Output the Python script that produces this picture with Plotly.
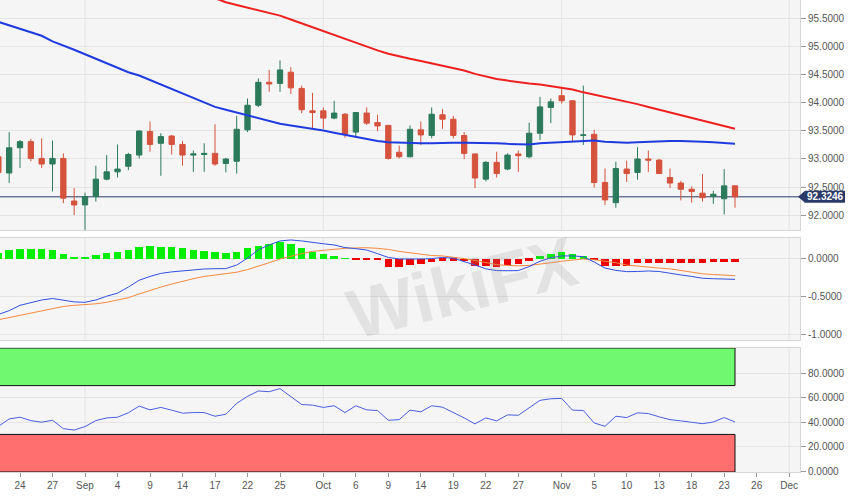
import pandas as pd
import plotly.graph_objects as go
from plotly.subplots import make_subplots

# ---------------- data ----------------
dates = pd.bdate_range("2020-08-20", "2020-11-24")

open_ = [93.04, 92.75, 93.20, 93.31, 93.01, 92.91, 93.01, 92.25, 92.18, 92.33,
         92.64, 92.77, 92.87, 93.07, 93.49, 93.28, 93.41, 93.26, 93.07, 93.08,
         93.10, 92.92, 92.96, 93.52, 93.96, 94.37, 94.35, 94.55, 94.26, 93.86,
         93.86, 93.73, 93.80, 93.48, 93.82, 93.65, 93.60, 93.12, 93.04, 93.52,
         93.42, 93.79, 93.71, 93.42, 93.09, 92.64, 92.94, 92.82, 93.09, 93.04,
         93.46, 93.92, 94.13, 94.04, 93.42, 93.44, 92.58, 92.22, 92.82, 92.76,
         93.00, 92.98, 92.67, 92.57, 92.46, 92.39, 92.33, 92.29, 92.52]
high = [93.10, 93.48, 93.34, 93.36, 93.37, 93.33, 93.10, 92.48, 92.40, 92.88,
        93.07, 93.26, 93.11, 93.51, 93.67, 93.46, 93.43, 93.32, 93.15, 93.28,
        93.62, 93.02, 93.77, 94.08, 94.44, 94.59, 94.76, 94.64, 94.31, 94.18,
        93.92, 94.04, 93.82, 93.84, 93.92, 93.79, 93.61, 93.24, 93.60, 93.67,
        93.92, 93.89, 93.77, 93.48, 93.10, 92.96, 93.13, 93.10, 93.15, 93.65,
        94.11, 94.08, 94.28, 94.05, 94.31, 93.52, 92.83, 92.95, 92.97, 93.21,
        93.15, 93.00, 92.83, 92.61, 92.51, 92.73, 92.43, 92.82, 92.53]
low = [92.70, 92.57, 92.84, 92.96, 92.84, 92.42, 92.21, 92.00, 91.73, 92.24,
       92.62, 92.67, 92.80, 93.01, 93.13, 92.70, 93.08, 92.88, 92.77, 92.77,
       92.88, 92.76, 92.74, 93.48, 93.93, 94.20, 94.20, 94.16, 93.82, 93.54,
       93.54, 93.71, 93.38, 93.38, 93.61, 93.50, 92.99, 93.01, 93.03, 93.25,
       93.37, 93.54, 93.37, 93.00, 92.48, 92.60, 92.67, 92.80, 92.77, 93.01,
       93.34, 93.64, 93.99, 93.30, 93.25, 92.49, 92.18, 92.13, 92.59, 92.63,
       92.77, 92.73, 92.48, 92.26, 92.22, 92.24, 92.20, 92.01, 92.13]
close = [92.76, 93.20, 93.31, 93.01, 92.91, 93.01, 92.30, 92.18, 92.33, 92.64,
         92.77, 92.82, 93.08, 93.50, 93.26, 93.40, 93.26, 93.07, 93.09, 93.10,
         92.91, 93.00, 93.53, 93.96, 94.37, 94.34, 94.59, 94.27, 93.88, 93.83,
         93.73, 93.82, 93.44, 93.83, 93.64, 93.59, 93.01, 93.04, 93.53, 93.43,
         93.80, 93.71, 93.42, 93.10, 92.66, 92.94, 92.74, 93.07, 93.06, 93.46,
         93.93, 94.02, 94.04, 93.43, 93.43, 92.58, 92.27, 92.83, 92.74, 93.00,
         92.98, 92.74, 92.57, 92.46, 92.42, 92.31, 92.37, 92.52, 92.3246]

ma_blue = [95.45, 95.39, 95.33, 95.27, 95.20, 95.10, 95.03, 94.95, 94.87, 94.79,
           94.71, 94.62, 94.55, 94.49, 94.41, 94.33, 94.25, 94.16, 94.08, 94.01,
           93.93, 93.88, 93.83, 93.77, 93.72, 93.67, 93.63, 93.60, 93.57, 93.55,
           93.51, 93.47, 93.43, 93.39, 93.35, 93.32, 93.30, 93.29, 93.28, 93.28,
           93.28, 93.29, 93.29, 93.29, 93.29, 93.29, 93.28, 93.27, 93.26, 93.26,
           93.28, 93.29, 93.30, 93.31, 93.32, 93.33, 93.31, 93.30, 93.29, 93.30,
           93.31, 93.32, 93.32, 93.32, 93.32, 93.31, 93.30, 93.29, 93.27]
ma_red = [None] * 20 + [
           95.87, 95.80, 95.75, 95.70, 95.65, 95.61, 95.56, 95.49, 95.42, 95.35,
           95.28, 95.21, 95.14, 95.08, 95.01, 94.94, 94.88, 94.83, 94.79, 94.75,
           94.71, 94.67, 94.63, 94.58, 94.52, 94.47, 94.43, 94.40, 94.37, 94.35,
           94.33, 94.30, 94.28, 94.24, 94.19, 94.15, 94.11, 94.07, 94.02, 93.98,
           93.93, 93.88, 93.83, 93.78, 93.74, 93.69, 93.64, 93.59, 93.54]

macd = [-0.73, -0.68, -0.61, -0.57, -0.54, -0.52, -0.54, -0.565, -0.57, -0.54,
        -0.49, -0.45, -0.37, -0.28, -0.23, -0.19, -0.17, -0.158, -0.14, -0.132,
        -0.128, -0.127, -0.08, 0.01, 0.12, 0.185, 0.237, 0.25, 0.237, 0.215,
        0.20, 0.184, 0.15, 0.135, 0.118, 0.07, 0.02, 0.0, -0.004, 0.0,
        0.005, 0.02, 0.01, -0.03, -0.08, -0.13, -0.153, -0.155, -0.153, -0.10,
        -0.03, 0.015, 0.04, 0.04, 0.03, -0.04, -0.12, -0.15, -0.167, -0.165,
        -0.158, -0.165, -0.19, -0.21, -0.23, -0.254, -0.26, -0.262, -0.268]
signal = [-0.80, -0.77, -0.74, -0.71, -0.68, -0.65, -0.625, -0.61, -0.60, -0.59,
          -0.57, -0.545, -0.51, -0.46, -0.41, -0.37, -0.33, -0.29, -0.26, -0.23,
          -0.21, -0.19, -0.175, -0.14, -0.10, -0.05, 0.0, 0.04, 0.07, 0.10,
          0.115, 0.13, 0.14, 0.145, 0.148, 0.14, 0.125, 0.10, 0.08, 0.06,
          0.045, 0.04, 0.025, 0.005, -0.02, -0.05, -0.075, -0.085, -0.09, -0.085,
          -0.07, -0.05, -0.03, -0.015, 0.0, -0.01, -0.03, -0.05, -0.08, -0.095,
          -0.105, -0.12, -0.13, -0.15, -0.175, -0.195, -0.205, -0.215, -0.22]
hist = [0.075, 0.118, 0.13, 0.13, 0.13, 0.118, 0.066, 0.03, 0.03, 0.053,
        0.075, 0.096, 0.118, 0.162, 0.171, 0.162, 0.162, 0.14, 0.118, 0.105,
        0.088, 0.075, 0.096, 0.14, 0.175, 0.193, 0.219, 0.193, 0.149, 0.096,
        0.061, 0.04, 0.005, -0.005, -0.012, -0.015, -0.10, -0.11, -0.077, -0.066,
        -0.035, -0.02, -0.02, -0.03, -0.09, -0.09, -0.10, -0.08, -0.065, -0.02,
        0.04, 0.06, 0.096, 0.06, 0.04, -0.01, -0.09, -0.09, -0.09, -0.05,
        -0.05, -0.05, -0.05, -0.05, -0.05, -0.05, -0.045, -0.045, -0.04]

rsi = [36.5, 42.7, 44.1, 41.3, 40.0, 41.6, 34.7, 33.6, 36.4, 41.3,
       43.5, 44.1, 47.7, 53.2, 50.1, 52.1, 49.9, 47.4, 47.9, 47.9,
       44.9, 46.5, 55.4, 61.2, 65.6, 65.0, 67.5, 61.2, 54.5, 54.0,
       52.1, 53.5, 47.9, 53.5, 50.1, 49.6, 41.6, 42.1, 49.9, 48.5,
       53.5, 52.3, 48.2, 43.5, 38.6, 43.5, 41.1, 46.0, 45.7, 51.8,
       57.9, 59.2, 59.5, 49.9, 49.6, 39.4, 36.6, 44.9, 43.8, 47.7,
       47.1, 44.4, 42.1, 41.1, 40.2, 38.8, 40.2, 43.8, 40.2]
rsi_upper = 70
rsi_lower = 30
rsi_ticks = [0, 20, 40, 60, 80]

tick_dates = ["2020-08-24", "2020-08-27", "2020-09-01", "2020-09-04", "2020-09-09",
              "2020-09-14", "2020-09-17", "2020-09-22", "2020-09-25", "2020-10-01",
              "2020-10-06", "2020-10-09", "2020-10-14", "2020-10-19", "2020-10-22",
              "2020-10-27", "2020-11-02", "2020-11-05", "2020-11-10", "2020-11-13",
              "2020-11-18", "2020-11-23", "2020-11-26", "2020-12-01"]
tick_labels = ["24", "27", "Sep", "4", "9", "14", "17", "22", "25", "Oct", "6", "9",
               "14", "19", "22", "27", "Nov", "5", "10", "13", "18", "23", "26", "Dec"]
month_lines = ["2020-09-01", "2020-10-01", "2020-11-02", "2020-12-01"]
macd_ticks = [0.0, -0.5, -1.0]
macd_tick_labels = ["0.0000", "-0.5000", "-1.0000"]
last_price = 92.3246

# ---------------- styling ----------------
FONT = "Arial, Liberation Sans, sans-serif"
GRID = "#e4e4e4"
BORDER = "#d6d6d6"
BG = "#f5f5f5"
UP = "#2c7a5c"
DOWN = "#d5523d"
NAVY = "#2b3a67"
TICKFONT = dict(family=FONT, size=10, color="#555555")
XRANGE = ["2020-08-20 03:40", "2020-12-02 00:00"]
YR_PRICE = [91.732, 95.839]
YR_MACD = [-1.066, 0.276]
YR_RSI = [-0.8, 100.8]

fig = make_subplots(rows=3, cols=1, shared_xaxes=True)

fig.add_trace(go.Candlestick(
    x=dates, open=open_, high=high, low=low, close=close,
    increasing=dict(line=dict(color=UP, width=1), fillcolor=UP),
    decreasing=dict(line=dict(color=DOWN, width=1), fillcolor=DOWN),
    whiskerwidth=0, showlegend=False, hoverinfo="skip"), row=1, col=1)
fig.add_trace(go.Scatter(x=dates, y=ma_blue, mode="lines",
                         line=dict(color="#1f3be0", width=2), showlegend=False), row=1, col=1)
fig.add_trace(go.Scatter(x=dates, y=ma_red, mode="lines",
                         line=dict(color="#ee2020", width=2), showlegend=False), row=1, col=1)

fig.add_trace(go.Bar(x=dates, y=hist,
                     marker=dict(color=["#00ee00" if v >= 0 else "#ee0000" for v in hist],
                                 line=dict(width=0)),
                     width=0.68 * 86400000, showlegend=False), row=2, col=1)
fig.add_trace(go.Scatter(x=dates, y=signal, mode="lines",
                         line=dict(color="#f5893f", width=1), showlegend=False), row=2, col=1)
fig.add_trace(go.Scatter(x=dates, y=macd, mode="lines",
                         line=dict(color="#3350e0", width=1), showlegend=False), row=2, col=1)

fig.add_trace(go.Scatter(x=dates, y=rsi, mode="lines",
                         line=dict(color="#4a5ee0", width=1), showlegend=False), row=3, col=1)

# month grid lines (below traces)
for xr, yr, rng in [("x", "y", YR_PRICE), ("x2", "y2", YR_MACD), ("x3", "y3", YR_RSI)]:
    for m in month_lines:
        fig.add_shape(type="line", xref=xr, yref=yr, x0=m, x1=m, y0=rng[0], y1=rng[1],
                      line=dict(color=GRID, width=1), layer="below")

# RSI bands
fig.add_shape(type="rect", xref="x3", yref="y3", x0=dates[0], x1=dates[-1],
              y0=rsi_upper, y1=YR_RSI[1], fillcolor="#70f870",
              line=dict(color="#111111", width=1), layer="above")
fig.add_shape(type="rect", xref="x3", yref="y3", x0=dates[0], x1=dates[-1],
              y0=YR_RSI[0], y1=rsi_lower, fillcolor="#ff6f6f",
              line=dict(color="#111111", width=1), layer="above")

# current price line and label
fig.add_shape(type="line", xref="x", yref="y", x0=XRANGE[0], x1=XRANGE[1],
              y0=last_price, y1=last_price, line=dict(color=NAVY, width=1), layer="below")
fig.add_shape(type="path", xref="paper", yref="y", xsizemode="pixel", ysizemode="pixel",
              xanchor=1, yanchor=last_price,
              path="M -2,0 L 5,-6 L 45,-6 L 45,6 L 5,6 Z",
              fillcolor=NAVY, line=dict(color=NAVY, width=0), layer="above")
fig.add_annotation(xref="paper", yref="y", x=1, y=last_price, xanchor="center",
                   xshift=25, text="<b>%.4f</b>" % last_price, showarrow=False,
                   font=dict(color="white", size=10, family=FONT))

# watermark
fig.add_annotation(xref="paper", yref="paper", x=0.578, y=0.39, text="<b>WikiFX</b>",
                   showarrow=False, textangle=-14,
                   font=dict(size=70, color="rgba(150,150,150,0.20)", family=FONT))

fig.update_layout(
    width=867, height=500,
    margin=dict(l=0, r=67, t=0, b=28),
    paper_bgcolor="white", plot_bgcolor=BG,
    font=dict(family=FONT, size=10, color="#555555"),
    showlegend=False, bargap=0,
)

for ax in ["xaxis", "xaxis2", "xaxis3"]:
    fig.layout[ax].update(
        range=XRANGE, rangebreaks=[dict(bounds=["sat", "mon"])],
        showgrid=False, zeroline=False, showline=True, mirror=True,
        linecolor=BORDER, rangeslider=dict(visible=False),
        tickvals=tick_dates, ticktext=tick_labels,
        ticks="", showticklabels=False)
fig.layout.xaxis3.update(showticklabels=True, ticks="outside", ticklen=4,
                         tickcolor="#999999", tickfont=TICKFONT)

common_y = dict(side="right", gridcolor=GRID, showline=True, mirror=True,
                linecolor=BORDER, zeroline=False, ticks="outside", ticklen=5,
                tickcolor="#999999", tickfont=TICKFONT)
fig.layout.yaxis.update(domain=[0.5127, 1.0], range=YR_PRICE,
                        dtick=0.5, tick0=92, tickformat=".4f", **common_y)
fig.layout.yaxis2.update(domain=[0.2797, 0.4958], range=YR_MACD,
                         tickvals=macd_ticks, ticktext=macd_tick_labels, **common_y)
fig.layout.yaxis3.update(domain=[0.0, 0.2627], range=YR_RSI,
                         tickvals=rsi_ticks, tickformat=".4f", **common_y)

fig.write_html("out.html", config={"displayModeBar": False},
               post_script="document.body.style.margin='0';")
